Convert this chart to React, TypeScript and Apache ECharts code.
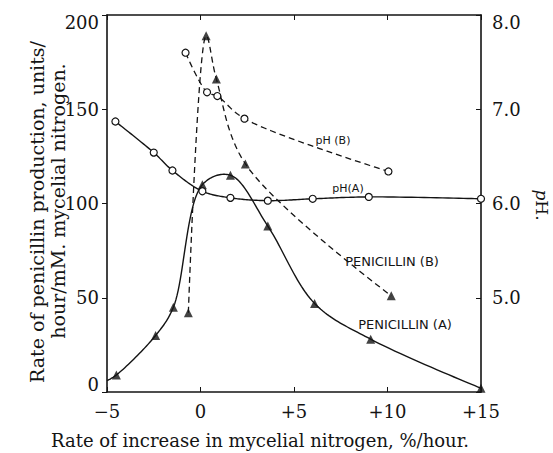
import { useEffect, useRef } from "react";
import * as echarts from "echarts";

// x: rate of increase in mycelial nitrogen (%/hour)
const xTicks = [-5, 0, 5, 10, 15];
const leftTicks = [0, 50, 100, 150, 200];
const rightTicks = [5.0, 6.0, 7.0, 8.0];

// Penicillin production rate (left axis)
const penicillinA: [number, number][] = [
  [-5, 6], [-4.5, 9], [-2.4, 30], [-1.45, 45], [0.1, 110], [1.6, 115],
  [3.6, 88], [6.1, 47], [9.1, 28], [15, 2],
];
const penicillinB: [number, number][] = [
  [-0.65, 42], [0.3, 189], [0.85, 166], [2.4, 121], [10.2, 51],
];
// pH (right axis)
const phA: [number, number][] = [
  [-4.55, 6.87], [-2.5, 6.54], [-1.5, 6.35], [0.1, 6.13], [1.6, 6.06],
  [3.6, 6.03], [6.0, 6.05], [9.0, 6.07], [15, 6.05],
];
const phB: [number, number][] = [
  [-0.8, 7.6], [0.35, 7.18], [0.9, 7.14], [2.35, 6.9], [10.05, 6.34],
];

const INK = "#141414";
const SERIF = "DejaVu Serif";
const SANS = "DejaVu Sans";

// centripetal Catmull-Rom through pixel points
function spline(pts: number[][], steps = 24): number[][] {
  if (pts.length < 3) return pts;
  const out: number[][] = [];
  const P = [pts[0], ...pts, pts[pts.length - 1]];
  const d = (a: number[], b: number[]) => Math.pow(Math.hypot(b[0] - a[0], b[1] - a[1]) || 1e-4, 0.5);
  for (let i = 1; i < P.length - 2; i++) {
    const p0 = P[i - 1], p1 = P[i], p2 = P[i + 1], p3 = P[i + 2];
    const t0 = 0, t1 = t0 + d(p0, p1), t2 = t1 + d(p1, p2), t3 = t2 + d(p2, p3);
    for (let s = 0; s <= steps; s++) {
      if (i > 1 && s === 0) continue;
      const t = t1 + ((t2 - t1) * s) / steps;
      const lerp = (a: number[], b: number[], ta: number, tb: number) =>
        tb - ta === 0 ? a : [((tb - t) * a[0] + (t - ta) * b[0]) / (tb - ta), ((tb - t) * a[1] + (t - ta) * b[1]) / (tb - ta)];
      const A1 = lerp(p0, p1, t0, t1), A2 = lerp(p1, p2, t1, t2), A3 = lerp(p2, p3, t2, t3);
      const B1 = lerp(A1, A2, t0, t2), B2 = lerp(A2, A3, t1, t3);
      out.push(lerp(B1, B2, t1, t2));
    }
  }
  return out;
}

function curve(name: string, data: [number, number][], yAxisIndex: number, dashed: boolean) {
  return {
    name: name + " curve",
    type: "custom",
    yAxisIndex,
    data: [data[0]],
    silent: true,
    z: 1,
    renderItem: (_params: any, api: any) => {
      const px = data.map((p) => api.coord(p));
      return {
        type: "polyline",
        shape: { points: spline(px) },
        style: { stroke: INK, lineWidth: dashed ? 1.3 : 1.4, fill: null, lineDash: dashed ? [6, 4] : null },
      };
    },
  };
}

export default function App() {
  const ref = useRef<HTMLDivElement>(null);
  useEffect(() => {
    if (!ref.current) return;
    const chart = echarts.init(ref.current, undefined, { renderer: "svg" });
    const fmtX = (v: number) => (v > 0 ? "+" + v : v < 0 ? "\u2212" + Math.abs(v) : "0");
    const tri = { type: "scatter", symbol: "triangle", symbolSize: 9, itemStyle: { color: INK }, z: 3 };
    const circ = {
      type: "scatter",
      symbol: "circle",
      symbolSize: 7,
      itemStyle: { color: "#fff", borderColor: INK, borderWidth: 1.2, opacity: 1 },
      z: 3,
    };
    const labelRich = {
      lo: { fontFamily: SERIF, fontSize: 18, color: INK, padding: [0, 0, 16, 0] },
      hi: { fontFamily: SERIF, fontSize: 18, color: INK, padding: [14, 0, 0, 0] },
    };
    chart.setOption({
      animation: false,
      backgroundColor: "#fff",
      grid: { left: 107, right: 72, top: 15, bottom: 61 },
      xAxis: [
        {
          type: "value", min: -5, max: 15, interval: 5, position: "bottom",
          axisLine: { onZero: false, lineStyle: { color: INK, width: 1.6 } },
          axisTick: { inside: true, length: 5, lineStyle: { color: INK } },
          splitLine: { show: false },
          axisLabel: {
            formatter: (v: number) => (xTicks.includes(v) ? fmtX(v) : ""),
            color: INK, fontFamily: SERIF, fontSize: 18, margin: 10,
          },
        },
        {
          type: "value", min: -5, max: 15, interval: 5, position: "top",
          axisLine: { onZero: false, lineStyle: { color: INK, width: 1.6 } },
          axisTick: { inside: true, length: 5, lineStyle: { color: INK } },
          splitLine: { show: false },
          axisLabel: { show: false },
        },
      ],
      yAxis: [
        {
          type: "value", min: 0, max: 200, interval: 50, position: "left",
          axisLine: { show: true, onZero: false, lineStyle: { color: INK, width: 1.6 } },
          axisTick: { show: true, inside: false, length: 5, lineStyle: { color: INK } },
          splitLine: { show: false },
          axisLabel: {
            formatter: (v: number) =>
              !leftTicks.includes(v) ? "" : v === 0 ? "{lo|0}" : v === 200 ? "{hi|200}" : String(v),
            rich: labelRich,
            color: INK, fontFamily: SERIF, fontSize: 18, margin: 8,
          },
        },
        {
          type: "value", min: 4, max: 8, interval: 1, position: "right",
          axisLine: { show: true, onZero: false, lineStyle: { color: INK, width: 1.6 } },
          axisTick: { show: true, inside: true, length: 5, lineStyle: { color: INK } },
          splitLine: { show: false },
          axisLabel: {
            formatter: (v: number) =>
              !rightTicks.includes(v) ? "" : v === 8 ? "{hi|8.0}" : v.toFixed(1),
            rich: labelRich,
            color: INK, fontFamily: SERIF, fontSize: 18, margin: 11,
          },
        },
      ],
      series: [
        curve("Penicillin (A)", penicillinA, 0, false),
        curve("Penicillin (B)", penicillinB, 0, true),
        curve("pH (A)", phA, 1, false),
        curve("pH (B)", phB, 1, true),
        { name: "Penicillin (A)", data: penicillinA.slice(1), yAxisIndex: 0, ...tri },
        { name: "Penicillin (B)", data: penicillinB, yAxisIndex: 0, ...tri },
        { name: "pH (A)", data: phA, yAxisIndex: 1, ...circ },
        { name: "pH (B)", data: phB, yAxisIndex: 1, ...circ },
      ],
      graphic: [
        {
          type: "text", x: 260, y: 440,
          style: {
            text: "Rate of increase in mycelial nitrogen, %/hour.",
            font: `18px "${SERIF}"`, fill: INK, textAlign: "center", textVerticalAlign: "middle",
          },
        },
        {
          type: "text", x: 37, y: 212, rotation: Math.PI / 2,
          style: {
            text: "Rate of penicillin production, units/",
            font: `19px "${SERIF}"`, fill: INK, textAlign: "center", textVerticalAlign: "middle",
          },
        },
        {
          type: "text", x: 58, y: 201, rotation: Math.PI / 2,
          style: {
            text: "hour/mM. mycelial nitrogen.",
            font: `19px "${SERIF}"`, fill: INK, textAlign: "center", textVerticalAlign: "middle",
          },
        },
        {
          type: "text", x: 542, y: 205, rotation: -Math.PI / 2,
          style: {
            text: "{i|p}H.",
            font: `17px "${SERIF}"`, fill: INK, textAlign: "center", textVerticalAlign: "middle",
            rich: { i: { fontStyle: "italic", fontFamily: SERIF, fontSize: 17, fill: INK } },
          },
        },
        {
          type: "text", x: 333, y: 140,
          style: { text: "pH (B)", font: `11px "${SANS}"`, fill: INK, textAlign: "center", textVerticalAlign: "middle" },
        },
        {
          type: "text", x: 348, y: 188,
          style: { text: "pH(A)", font: `11px "${SANS}"`, fill: INK, textAlign: "center", textVerticalAlign: "middle" },
        },
        {
          type: "text", x: 392, y: 261,
          style: { text: "PENICILLIN (B)", font: `13px "${SANS}"`, fill: INK, textAlign: "center", textVerticalAlign: "middle" },
        },
        {
          type: "text", x: 405, y: 324,
          style: { text: "PENICILLIN (A)", font: `13px "${SANS}"`, fill: INK, textAlign: "center", textVerticalAlign: "middle" },
        },
      ],
    });
    return () => chart.dispose();
  }, []);
  return <div ref={ref} style={{ width: 553, height: 453, position: "absolute", left: 0, top: 0 }} />;
}
